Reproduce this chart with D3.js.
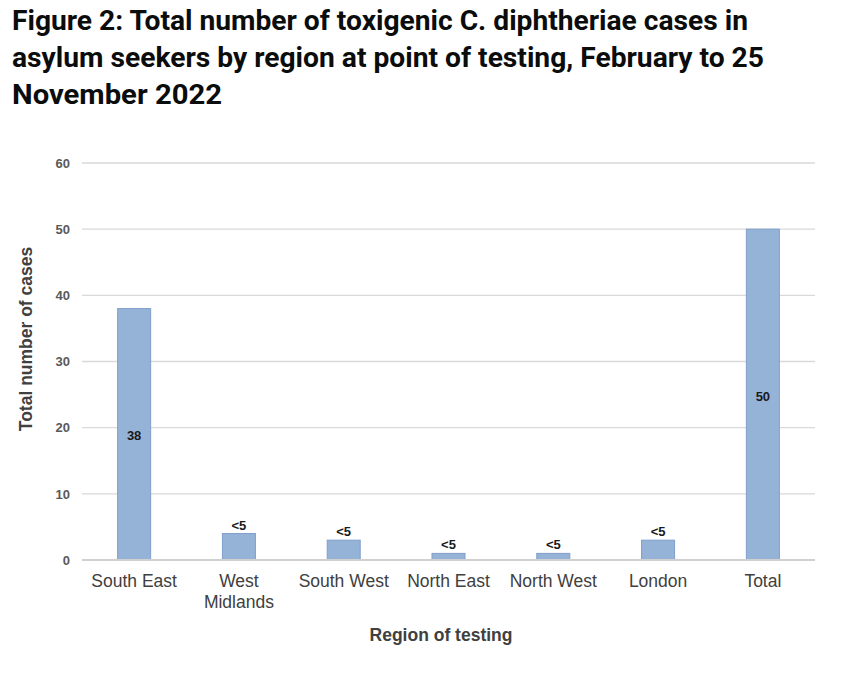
<!DOCTYPE html>
<html><head><meta charset="utf-8">
<script src="https://cdn.jsdelivr.net/npm/d3@7"></script>
<style>
html,body{margin:0;padding:0;background:#fff;}
svg{display:block;}
</style></head>
<body>
<svg id="chart" width="858" height="684"></svg>
<script>
const titleLines = ["Figure 2: Total number of toxigenic C. diphtheriae cases in",
  "asylum seekers by region at point of testing, February to 25",
  "November 2022"];
const categories = ["South East", "West\nMidlands", "South West", "North East", "North West", "London", "Total"];
const values = [38, 4, 3, 1, 1, 3, 50];
const valueLabels = ["38", "<5", "<5", "<5", "<5", "<5", "50"];
const yTicks = [0, 10, 20, 30, 40, 50, 60];
const yTitle = "Total number of cases";
const xTitle = "Region of testing";

(function() {
const svg = d3.select("#chart");
const pL = 82, pR = 815, pT = 163, pB = 560;
const aFont = "'Liberation Sans', Arial, sans-serif";

// Title
const tFont = "'Roboto', 'Liberation Sans', Arial, sans-serif";
const title = svg.append("g");
const targetW = [736, 752, 210];
titleLines.forEach((t, i) => {
  title.append("text").attr("x", 12).attr("y", 30 + i * 37)
    .attr("font-family", tFont).attr("font-weight", 700).attr("font-size", 27)
    .attr("fill", "#0b0c0c").text(t)
    .attr("textLength", targetW[i]).attr("lengthAdjust", "spacingAndGlyphs");
});

const x = d3.scaleBand().domain(categories).range([pL, pR]).paddingInner(0.685).paddingOuter(0.34);
const y = d3.scaleLinear().domain([0, 60]).range([pB, pT]);

// gridlines
svg.append("g").selectAll("line").data(yTicks.filter(d => d > 0)).join("line")
  .attr("x1", pL).attr("x2", pR)
  .attr("y1", d => y(d)).attr("y2", d => y(d))
  .attr("stroke", "#d9d9d9").attr("stroke-width", 1.3);

// y tick labels
const yAxis = d3.axisLeft(y).tickValues(yTicks).tickSize(0).tickPadding(0);
const ya = svg.append("g").attr("transform", `translate(70,0)`).call(yAxis);
ya.select(".domain").remove();
ya.selectAll("text").attr("font-family", aFont)
  .attr("font-size", 13).attr("font-weight", 700).attr("fill", "#595959");

// bars
svg.append("g").selectAll("rect").data(values).join("rect")
  .attr("x", (d, i) => x(categories[i]))
  .attr("y", d => y(d))
  .attr("width", x.bandwidth())
  .attr("height", d => y(0) - y(d))
  .attr("fill", "#95b3d7").attr("stroke", "#7f9fcb").attr("stroke-width", 1);

// zero line
svg.append("line").attr("x1", pL).attr("x2", pR).attr("y1", y(0)).attr("y2", y(0))
  .attr("stroke", "#d0d0d0").attr("stroke-width", 2);

// value labels
svg.append("g").selectAll("text").data(values).join("text")
  .attr("x", (d, i) => x(categories[i]) + x.bandwidth() / 2)
  .attr("y", (d, i) => d >= 10 ? (y(d) + y(0)) / 2 + 6 : y(d) - 4)
  .attr("text-anchor", "middle")
  .attr("font-family", aFont)
  .attr("font-size", 13).attr("font-weight", 700).attr("fill", "#1a1a1a")
  .text((d, i) => valueLabels[i]);

// x category labels
const xAxis = d3.axisBottom(x).tickSize(0).tickPadding(0).tickFormat("");
const xa = svg.append("g").attr("transform", `translate(0,${pB})`).call(xAxis);
xa.select(".domain").remove();
svg.append("g").selectAll("text").data(categories).join("text")
  .attr("x", d => x(d) + x.bandwidth() / 2)
  .attr("y", pB + 27)
  .attr("text-anchor", "middle")
  .attr("font-family", aFont)
  .attr("font-size", 17.5).attr("fill", "#404040")
  .each(function(d) {
    d.split("\n").forEach((ln, j) => {
      d3.select(this).append("tspan").attr("x", x(d) + x.bandwidth() / 2)
        .attr("dy", j === 0 ? 0 : 21).text(ln);
    });
  });

// axis titles
svg.append("text").attr("transform", `translate(32,339) rotate(-90)`)
  .attr("text-anchor", "middle")
  .attr("font-family", aFont)
  .attr("font-size", 17.5).attr("font-weight", 700).attr("fill", "#404040").text(yTitle);
svg.append("text").attr("x", 441).attr("y", 641).attr("text-anchor", "middle")
  .attr("font-family", aFont)
  .attr("font-size", 17.5).attr("font-weight", 700).attr("fill", "#404040").text(xTitle);
})();
</script>
</body></html>
